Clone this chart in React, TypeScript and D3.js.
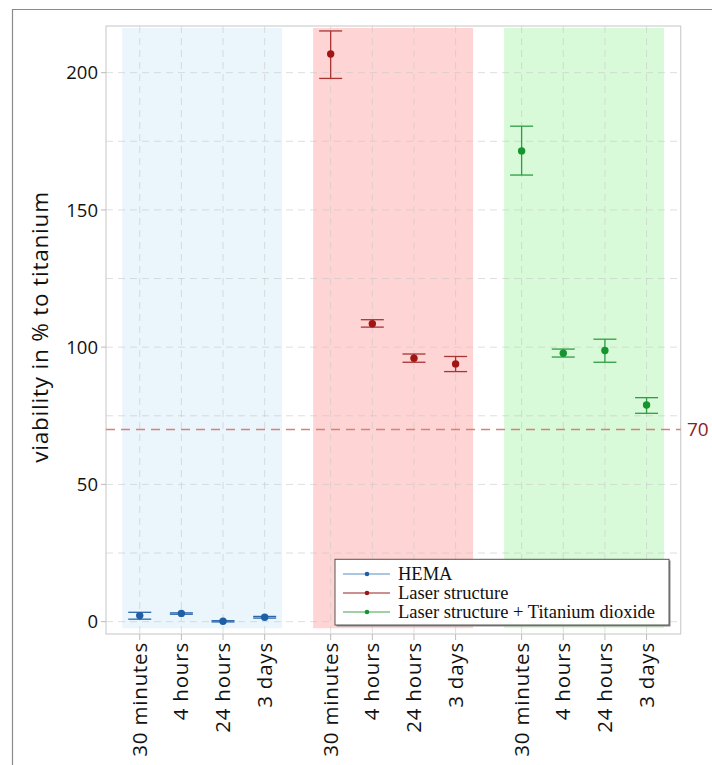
import React from "react";
import * as d3 from "d3";

const timepoints = ["30 minutes", "4 hours", "24 hours", "3 days"];
const seriesNames = ["HEMA", "Laser structure", "Laser structure + Titanium dioxide"];
const hemaMean = [2.2, 3.0, 0.15, 1.6];
const hemaLow = [0.9, 2.7, -0.1, 1.3];
const hemaHigh = [3.4, 3.2, 0.35, 1.9];
const laserMean = [206.8, 108.5, 96.0, 93.9];
const laserLow = [197.9, 107.3, 94.5, 91.1];
const laserHigh = [215.2, 110.0, 97.5, 96.6];
const tioMean = [171.5, 97.8, 98.8, 78.9];
const tioLow = [162.7, 96.4, 94.5, 75.9];
const tioHigh = [180.5, 99.3, 102.9, 81.6];
const yTicks = [0, 50, 100, 150, 200];
const yGrid = [0, 25, 50, 75, 100, 125, 150, 175, 200];
const threshold = 70;

const W = 712, H = 765;
const L = 106, R = 680.7, T = 26, B = 634;
const GAP = 1.585;
const seriesColors = ["#1f5fa6", "#a01414", "#14952e"];
const barColors = ["#2a66aa", "#a83434", "#2f9d45"];
const legendLine = ["#8fb3d6", "#b86a6a", "#7fc08a"];
const bandColors = ["#eaf5fc", "#ffd4d4", "#d8fad8"];
const sans = "'Open Sans', 'Noto Sans', sans-serif";

export default function App() {
  const means = [hemaMean, laserMean, tioMean];
  const lows = [hemaLow, laserLow, tioLow];
  const highs = [hemaHigh, laserHigh, tioHigh];
  const slot = (g: number, i: number) => g * (3 + GAP) + i;
  const x = d3.scaleLinear().domain([-0.81, 2 * (3 + GAP) + 3 + 0.82]).range([L, R]);
  const y = d3.scaleLinear().domain([-4.5, 217]).range([B, T]);
  const allSlots: { g: number; i: number; s: number }[] = [];
  seriesNames.forEach((_, g) => timepoints.forEach((_, i) => allSlots.push({ g, i, s: slot(g, i) })));

  return (
    <svg width={W} height={H} style={{ position: "absolute", left: 0, top: 0, background: "#fff" }}>
      {/* outer frame */}
      <line x1={12} y1={9.5} x2={W} y2={9.5} stroke="#8a8a8a" strokeWidth={1.2} />
      <line x1={12.5} y1={9} x2={12.5} y2={H} stroke="#8a8a8a" strokeWidth={1.2} />

      {/* bands */}
      {seriesNames.map((_, g) => (
        <rect key={"b" + g} x={x(slot(g, 0) - 0.42)} width={x(slot(g, 3) + 0.42) - x(slot(g, 0) - 0.42)}
          y={y(216.3)} height={y(-2.4) - y(216.3)} fill={bandColors[g]} />
      ))}

      {/* grid */}
      {yGrid.map((v) => (
        <line key={"gy" + v} x1={L} x2={R} y1={y(v)} y2={y(v)} stroke="#c8c8c8" strokeOpacity={0.6} strokeDasharray="7,5" strokeWidth={1} />
      ))}
      {allSlots.map((d) => (
        <line key={"gx" + d.s} x1={x(d.s)} x2={x(d.s)} y1={T} y2={B} stroke="#c8c8c8" strokeOpacity={0.6} strokeDasharray="7,5" strokeWidth={1} />
      ))}

      {/* plot frame */}
      <rect x={L} y={T} width={R - L} height={B - T} fill="none" stroke="#cfcfcf" strokeWidth={1.2} />

      {/* y ticks */}
      {yTicks.map((v) => (
        <g key={"yt" + v}>
          <line x1={L - 5} x2={L} y1={y(v)} y2={y(v)} stroke="#bbb" />
          <text x={98} y={y(v)} dy="0.36em" textAnchor="end" fontFamily={sans} fontSize={18.5} fill="#111">{v}</text>
        </g>
      ))}
      {/* x ticks */}
      {allSlots.map((d) => (
        <g key={"xt" + d.s}>
          <line x1={x(d.s)} x2={x(d.s)} y1={B} y2={B + 6} stroke="#bbb" />
          <text transform={`translate(${x(d.s) + 7},${642}) rotate(-90)`} textAnchor="end"
            fontFamily={sans} fontSize={20.5} letterSpacing={0.8} fill="#111">{timepoints[d.i]}</text>
        </g>
      ))}

      {/* y label */}
      <text transform={`translate(48,327) rotate(-90)`} textAnchor="middle" fontFamily={sans} fontSize={22.5}
        letterSpacing={0.8} fill="#111">viability in % to titanium</text>

      {/* threshold */}
      <line x1={L} x2={R} y1={y(threshold)} y2={y(threshold)} stroke="#d4827c" strokeWidth={1.4} strokeDasharray="9,6" />
      <text x={687} y={y(threshold)} dy="0.36em" fontFamily={sans} fontSize={19} fill="#8b1e1e">{threshold}</text>

      {/* error bars and points */}
      {allSlots.map((d) => {
        const cx = x(d.s);
        const c = barColors[d.g];
        return (
          <g key={"p" + d.s}>
            <line x1={cx} x2={cx} y1={y(lows[d.g][d.i])} y2={y(highs[d.g][d.i])} stroke={c} strokeWidth={1.3} />
            <line x1={cx - 11.5} x2={cx + 11.5} y1={y(lows[d.g][d.i])} y2={y(lows[d.g][d.i])} stroke={c} strokeWidth={1.3} />
            <line x1={cx - 11.5} x2={cx + 11.5} y1={y(highs[d.g][d.i])} y2={y(highs[d.g][d.i])} stroke={c} strokeWidth={1.3} />
            <circle cx={cx} cy={y(means[d.g][d.i])} r={3.7} fill={seriesColors[d.g]} />
          </g>
        );
      })}

      {/* legend */}
      <rect x={336.5} y={560.5} width={334} height={66} fill="#888" />
      <rect x={335} y={559.3} width={334} height={65.7} fill="#fff" stroke="#555" strokeWidth={1} />
      {seriesNames.map((n, k) => {
        const ly = 574 + k * 19;
        return (
          <g key={"lg" + k}>
            <line x1={343} x2={390} y1={ly} y2={ly} stroke={legendLine[k]} strokeWidth={1.3} />
            <circle cx={367} cy={ly} r={2.3} fill={seriesColors[k]} />
            <text x={398} y={ly} dy="0.33em" fontFamily="'Liberation Serif', 'DejaVu Serif', serif" fontSize={18.5} fill="#111">{n}</text>
          </g>
        );
      })}
    </svg>
  );
}
